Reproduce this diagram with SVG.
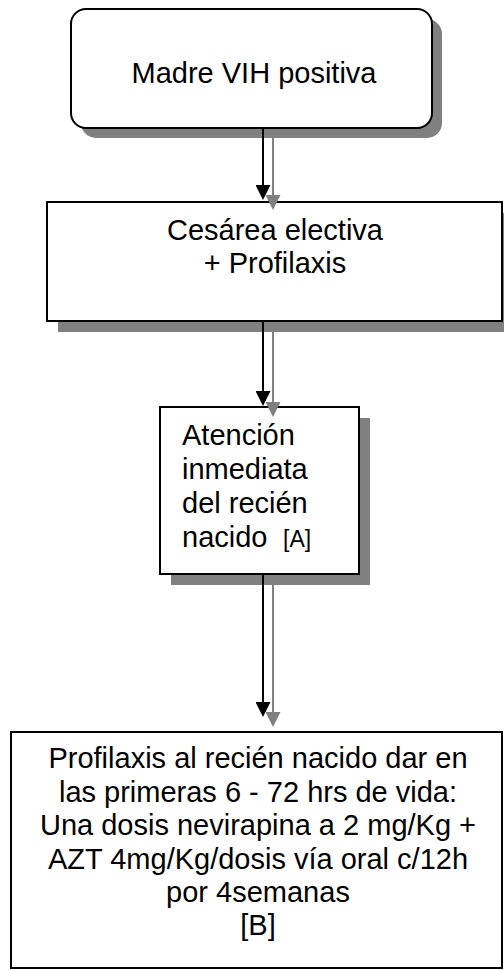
<svg xmlns="http://www.w3.org/2000/svg" width="504" height="970" viewBox="0 0 504 970">
<defs>
<style>
.shadow{fill:#808080;stroke:none}
.box{fill:#ffffff;stroke:#000000;stroke-width:2}
.t{font-family:"Liberation Sans",Arial,sans-serif;font-size:29px;fill:#000000}
.c{text-anchor:middle}
.a{stroke:#000000;stroke-width:2;fill:none}
.g{stroke:#808080;stroke-width:2;fill:none}
</style>
<marker id="ah" markerUnits="userSpaceOnUse" markerWidth="15" markerHeight="15" refX="3" refY="7.5" orient="auto">
<path d="M0,0 L15,7.5 L0,15 z" fill="#000000"/>
</marker>
<marker id="ahg" markerUnits="userSpaceOnUse" markerWidth="15" markerHeight="15" refX="3" refY="7.5" orient="auto">
<path d="M0,0 L15,7.5 L0,15 z" fill="#808080"/>
</marker>
</defs>
<rect width="504" height="970" fill="#ffffff"/>
<g id="n1">
<rect class="shadow" x="81" y="19" width="361" height="119" rx="15" ry="15"/>
<rect class="box" x="71" y="9" width="361" height="119" rx="15" ry="15"/>
<text class="t c" x="254" y="83">Madre VIH positiva</text>
</g>
<g id="n2">
<rect class="shadow" x="58" y="213" width="455" height="119"/>
<rect class="box" x="47" y="202" width="455" height="119"/>
<text class="t c" x="275" y="240">Cesárea electiva</text>
<text class="t c" x="275" y="273">+ Profilaxis</text>
</g>
<g id="n3">
<rect class="shadow" x="171" y="418" width="199" height="167"/>
<rect class="box" x="160" y="407" width="199" height="167"/>
<text class="t" x="182" y="445">Atención</text>
<text class="t" x="182" y="479">inmediata</text>
<text class="t" x="182" y="513">del recién</text>
<text class="t" x="182" y="547">nacido<tspan x="283" style="font-size:23px">[A]</tspan></text>
</g>
<g id="n4">
<rect class="box" x="11" y="732" width="491" height="236"/>
<text class="t c" x="258" y="768">Profilaxis al recién nacido dar en</text>
<text class="t c" x="258" y="801.5">las primeras 6 - 72 hrs de vida:</text>
<text class="t c" x="258" y="835">Una dosis nevirapina a 2 mg/Kg +</text>
<text class="t c" x="258" y="868.5">AZT 4mg/Kg/dosis vía oral c/12h</text>
<text class="t c" x="258" y="902">por 4semanas</text>
<text class="t c" x="258" y="935">[B]</text>
</g>
<g id="connectors">
<line class="g" x1="273" y1="138" x2="273" y2="198" marker-end="url(#ahg)"/>
<line class="a" x1="263" y1="128" x2="263" y2="188" marker-end="url(#ah)"/>
<line class="g" x1="273" y1="332" x2="273" y2="405" marker-end="url(#ahg)"/>
<line class="a" x1="263" y1="321" x2="263" y2="394" marker-end="url(#ah)"/>
<line class="g" x1="273" y1="585" x2="273" y2="715" marker-end="url(#ahg)"/>
<line class="a" x1="263" y1="574" x2="263" y2="705" marker-end="url(#ah)"/>
</g>
</svg>
